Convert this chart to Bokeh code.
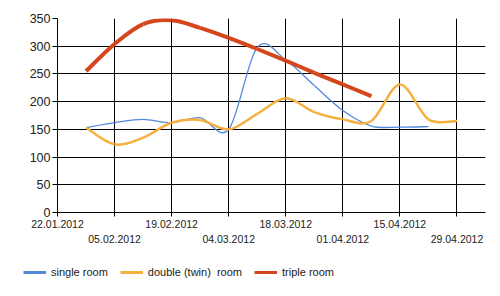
import numpy as np
import pandas as pd
from bokeh.plotting import figure
from bokeh.layouts import column
from bokeh.models import (Range1d, FixedTicker, DatetimeAxis, DatetimeTickFormatter,
                          Legend, LegendItem, ColumnDataSource)
from bokeh.embed import file_html
from bokeh.resources import INLINE

# ---- data -------------------------------------------------------------
weeks = ["2012-01-29", "2012-02-05", "2012-02-12", "2012-02-19", "2012-02-26",
         "2012-03-04", "2012-03-11", "2012-03-18", "2012-03-25", "2012-04-01",
         "2012-04-08", "2012-04-15", "2012-04-22", "2012-04-29"]
single_room = [153, 162, 168, 162, 171, 150, 298, 275, 229, 184, 156, 154, 155]
double_room = [153, 123, 135, 162, 167, 150, 178, 206, 181, 168, 165, 231, 168, 165]
triple_room = [255, 304, 340, 347, 333, 315, 295, 274, 252, 231, 210]
series_names = ["single room", "double (twin)  room", "triple room"]
tick_row1 = ["2012-01-22", "2012-02-19", "2012-03-18", "2012-04-15"]
tick_row2 = ["2012-02-05", "2012-03-04", "2012-04-01", "2012-04-29"]
x_start, x_end = "2012-01-22", "2012-05-06"
y_ticks = [0, 50, 100, 150, 200, 250, 300, 350]
colors = ["#5289dc", "#f5b040", "#d4461b"]
widths = [1.3, 2.5, 4]


def ms(dates):
    return [pd.Timestamp(d).value / 1e6 for d in dates]


def smooth(xs, ys):
    """Catmull-Rom segments expressed as cubic bezier pieces (data space)."""
    xs = np.asarray(xs, float)
    ys = np.asarray(ys, float)
    n = len(xs)
    d = dict(x0=[], y0=[], x1=[], y1=[], cx0=[], cy0=[], cx1=[], cy1=[])
    for i in range(n - 1):
        a = max(i - 1, 0)
        b = min(i + 2, n - 1)
        d["x0"].append(xs[i]); d["y0"].append(ys[i])
        d["x1"].append(xs[i + 1]); d["y1"].append(ys[i + 1])
        d["cx0"].append(xs[i] + (xs[i + 1] - xs[a]) / 6)
        d["cy0"].append(ys[i] + (ys[i + 1] - ys[a]) / 6)
        d["cx1"].append(xs[i + 1] - (xs[b] - xs[i]) / 6)
        d["cy1"].append(ys[i + 1] - (ys[b] - ys[i]) / 6)
    return ColumnDataSource(d)


p = figure(width=500, height=252, x_axis_type="datetime",
           output_backend="svg", toolbar_location=None,
           x_range=Range1d(ms([x_start])[0], ms([x_end])[0]),
           y_range=Range1d(0, 350),
           min_border_left=57, min_border_right=15,
           min_border_top=18, min_border_bottom=40)
p.frame_align = False
p.outline_line_color = None
p.background_fill_color = "white"
p.border_fill_color = "white"

FONT = "Liberation Sans"

# x axis (row 1 labels + all tick marks)
xa = p.xaxis[0]
xa.ticker = FixedTicker(ticks=ms(tick_row1), minor_ticks=ms(tick_row2))
xa.formatter = DatetimeTickFormatter(days="%d.%m.%Y", months="%d.%m.%Y")
xa.axis_line_color = "black"
xa.major_tick_line_color = "black"
xa.minor_tick_line_color = "black"
xa.major_tick_out = 4
xa.major_tick_in = 0
xa.minor_tick_out = 4
xa.minor_tick_in = 0
xa.major_label_standoff = 3
xa.major_label_text_font = FONT
xa.major_label_text_font_size = "10.5px"
xa.major_label_text_color = "#222222"

# second row of labels
xa2 = DatetimeAxis(ticker=FixedTicker(ticks=ms(tick_row2)),
                   formatter=DatetimeTickFormatter(days="%d.%m.%Y", months="%d.%m.%Y"))
xa2.axis_line_color = None
xa2.major_tick_line_color = None
xa2.minor_tick_line_color = None
xa2.major_tick_out = 0
xa2.major_tick_in = 0
xa2.minor_tick_out = 0
xa2.minor_tick_in = 0
xa2.major_label_standoff = 4
xa2.major_label_text_font = FONT
xa2.major_label_text_font_size = "10.5px"
xa2.major_label_text_color = "#222222"
p.add_layout(xa2, "below")

# y axis
ya = p.yaxis[0]
ya.ticker = FixedTicker(ticks=y_ticks)
ya.axis_line_color = "black"
ya.major_tick_line_color = "black"
ya.major_tick_out = 5
ya.major_tick_in = 0
ya.minor_tick_line_color = None
ya.major_label_standoff = 2
ya.major_label_text_font = FONT
ya.major_label_text_font_size = "12.5px"
ya.major_label_text_color = "#222222"

# grids
p.xgrid[0].ticker = FixedTicker(ticks=ms(tick_row1 + tick_row2))
p.xgrid[0].grid_line_color = "black"
p.xgrid[0].grid_line_width = 1
p.ygrid[0].grid_line_color = "black"
p.ygrid[0].grid_line_width = 1

# legend strip (separate figure spanning the full width)
lf = figure(width=500, height=44, output_backend="svg", toolbar_location=None,
            x_range=Range1d(0, 1), y_range=Range1d(0, 1),
            x_axis_location=None, y_axis_location=None,
            min_border=0, min_border_left=0, min_border_right=0,
            min_border_top=0, min_border_bottom=0)
lf.frame_align = False
lf.grid.visible = False
lf.outline_line_color = None
lf.background_fill_color = "white"
lf.border_fill_color = "white"

# series
all_series = [single_room, double_room, triple_room]
items = []
for name, vals, c, w in zip(series_names, all_series, colors, widths):
    src = smooth(ms(weeks[:len(vals)]), vals)
    p.bezier(x0="x0", y0="y0", x1="x1", y1="y1", cx0="cx0", cy0="cy0",
             cx1="cx1", cy1="cy1", source=src, line_color=c, line_width=w)
    # one-point line: draws nothing itself, only provides the legend swatch
    dummy = lf.line(x=[-5], y=[-5], line_color=c, line_width=3)
    items.append(LegendItem(label=name, renderers=[dummy]))

legend = Legend(items=items, orientation="horizontal", location=(23, 16))
legend.border_line_color = None
legend.background_fill_alpha = 0
legend.padding = 6
legend.margin = 0
legend.glyph_width = 23
legend.glyph_height = 16
legend.label_standoff = 5
legend.spacing = 12
legend.label_text_font = FONT
legend.label_text_font_size = "11px"
legend.label_text_color = "#222222"
lf.add_layout(legend)

open("out.html", "w").write(file_html(column(p, lf, spacing=0), INLINE))
